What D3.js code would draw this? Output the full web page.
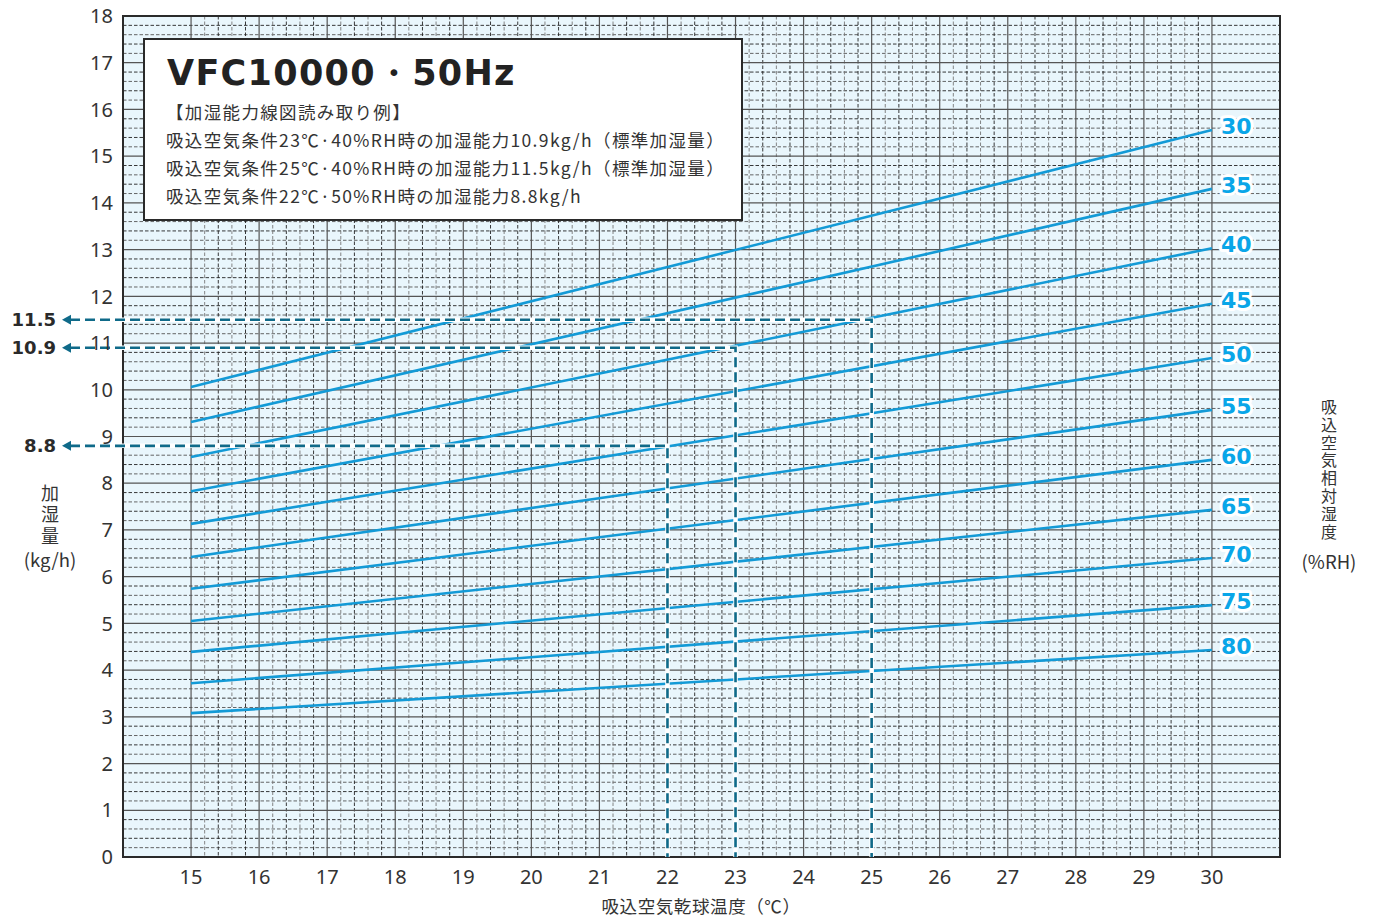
<!DOCTYPE html>
<html><head><meta charset="utf-8">
<script src="https://cdn.jsdelivr.net/npm/d3@7"></script>
<style>
html,body{margin:0;padding:0;background:#fff;}
svg{display:block;}
</style></head>
<body>
<script>
// ---- data ----
const rhLevels = [30, 35, 40, 45, 50, 55, 60, 65, 70, 75, 80];
const tempRange = [15, 30];
const humAt15 = [10.06, 9.31, 8.56, 7.83, 7.13, 6.42, 5.74, 5.05, 4.39, 3.72, 3.08];
const humAt30 = [15.56, 14.30, 13.03, 11.84, 10.68, 9.57, 8.50, 7.43, 6.40, 5.39, 4.43];
const xTicks = d3.range(15, 31, 1);
const yTicks = d3.range(0, 19, 1);
const exampleTemps = [25, 23, 22];
const exampleValues = [11.5, 10.9, 8.8];
const exampleLabels = ["11.5", "10.9", "8.8"];
const titleText = "VFC10000・50Hz";
const noteLines = [
  "【加湿能力線図読み取り例】",
  "吸込空気条件23℃·40%RH時の加湿能力10.9kg/h（標準加湿量）",
  "吸込空気条件25℃·40%RH時の加湿能力11.5kg/h（標準加湿量）",
  "吸込空気条件22℃·50%RH時の加湿能力8.8kg/h"
];
const xTitle = "吸込空気乾球温度（℃）";
const yTitle = "加湿量";
const yUnit = "(kg/h)";
const rTitle = "吸込空気相対湿度";
const rUnit = "(%RH)";

const W = 1375, H = 920;
const L = 123, R = 1280, T = 16, B = 857;
const x = d3.scaleLinear().domain([14, 31]).range([L, R]);
const y = d3.scaleLinear().domain([0, 18]).range([B, T]);

const JP = "'Noto Sans CJK JP', 'Noto Sans', sans-serif";
const NUM = "'Noto Sans', 'DejaVu Sans', sans-serif";
const WIDE = "'DejaVu Sans', 'Noto Sans', sans-serif";

const svg = d3.select("body").append("svg").attr("width", W).attr("height", H);

// background
svg.append("rect").attr("x", L).attr("y", T).attr("width", R - L).attr("height", B - T).attr("fill", "#e9f6fc");

const grid = svg.append("g");
// minor horizontal lines (every 0.2)
const minorY = d3.range(0, 18.001, 0.2).filter(v => Math.abs(v - Math.round(v)) > 1e-6);
grid.selectAll(".mh").data(minorY).join("line")
  .attr("x1", L).attr("x2", R)
  .attr("y1", d => y(d)).attr("y2", d => y(d))
  .attr("stroke", (d, i) => (i % 2 ? "#222" : "#555"))
  .attr("stroke-width", 0.9).attr("stroke-dasharray", "3.5,2");
// minor vertical lines (between 15 and 30)
const minorX = d3.range(15, 30.001, 0.2).filter(v => Math.abs(v - Math.round(v)) > 1e-6);
grid.selectAll(".mv").data(minorX).join("line")
  .attr("x1", d => x(d)).attr("x2", d => x(d))
  .attr("y1", T).attr("y2", B)
  .attr("stroke", (d, i) => (i % 2 ? "#222" : "#777"))
  .attr("stroke-width", 0.9).attr("stroke-dasharray", "3.5,2");
// major lines
grid.selectAll(".Mh").data(yTicks).join("line")
  .attr("x1", L).attr("x2", R)
  .attr("y1", d => y(d)).attr("y2", d => y(d))
  .attr("stroke", "#555").attr("stroke-width", 1.2);
grid.selectAll(".Mv").data(xTicks).join("line")
  .attr("x1", d => x(d)).attr("x2", d => x(d))
  .attr("y1", T).attr("y2", B)
  .attr("stroke", "#555").attr("stroke-width", 1.2);

// frame
svg.append("rect").attr("x", L).attr("y", T).attr("width", R - L).attr("height", B - T)
  .attr("fill", "none").attr("stroke", "#2a2a2a").attr("stroke-width", 2);

// RH lines
const lineGen = d3.line().x(d => x(d[0])).y(d => y(d[1]));
const series = rhLevels.map((rh, i) => ({ rh, pts: [[tempRange[0], humAt15[i]], [tempRange[1], humAt30[i]]] }));
svg.append("g").selectAll("path").data(series).join("path")
  .attr("d", d => lineGen(d.pts))
  .attr("fill", "none").attr("stroke", "#139ad6").attr("stroke-width", 2.6);

// example dashed guides
const ex = exampleValues.map((v, i) => ({ v, t: exampleTemps[i], label: exampleLabels[i] }));
const guides = svg.append("g");
function guidePath(d) { return `M${70},${y(d.v)}H${x(d.t)}V${B}`; }
guides.selectAll(".gw").data(ex).join("path")
  .attr("d", guidePath).attr("fill", "none").attr("stroke", "#fff").attr("stroke-width", 4.5);
guides.selectAll(".gd").data(ex).join("path")
  .attr("d", guidePath).attr("fill", "none").attr("stroke", "#0f6a89").attr("stroke-width", 2.6)
  .attr("stroke-dasharray", "10,5");
guides.selectAll(".ga").data(ex).join("path")
  .attr("d", d => `M${62},${y(d.v)}L${71},${y(d.v) - 5}L${71},${y(d.v) + 5}Z`)
  .attr("fill", "#0f6a89");
guides.selectAll(".gl").data(ex).join("text")
  .attr("x", 56).attr("y", d => y(d.v)).attr("dy", "0.36em")
  .attr("text-anchor", "end").attr("font-family", WIDE).attr("font-weight", "bold")
  .attr("font-size", 18).attr("fill", "#2a2a2a").text(d => d.label);

// y tick labels
svg.append("g").selectAll("text").data(yTicks).join("text")
  .attr("x", 113).attr("y", d => y(d)).attr("dy", "0.36em").attr("text-anchor", "end")
  .attr("font-family", NUM).attr("font-size", 20).attr("fill", "#333").text(d => d);
// x tick labels
svg.append("g").selectAll("text").data(xTicks).join("text")
  .attr("x", d => x(d)).attr("y", 877).attr("dy", "0.36em").attr("text-anchor", "middle")
  .attr("font-family", NUM).attr("font-size", 20).attr("fill", "#333").text(d => d);

// RH labels
svg.append("g").selectAll("text").data(series).join("text")
  .attr("x", 1221).attr("y", d => y(d.pts[1][1]) - 4).attr("dy", "0.36em")
  .attr("font-family", WIDE).attr("font-weight", "bold").attr("font-size", 22)
  .attr("fill", "#0aa6e8").attr("stroke", "#fff").attr("stroke-width", 6)
  .attr("stroke-linejoin", "round").attr("paint-order", "stroke").text(d => d.rh);

// axis titles
svg.append("text").attr("x", 701).attr("y", 907).attr("dy", "0.36em").attr("text-anchor", "middle")
  .attr("font-family", JP).attr("font-size", 17.5).attr("letter-spacing", 0.6).attr("fill", "#333").text(xTitle);
// vertical titles (single text elements, vertical writing)
svg.append("text").attr("x", 50).attr("y", 484)
  .style("writing-mode", "vertical-rl").style("text-orientation", "upright")
  .attr("font-family", JP).attr("font-size", 18).attr("letter-spacing", 3.5).attr("fill", "#333").text(yTitle);
svg.append("text").attr("x", 50).attr("y", 560).attr("dy", "0.36em").attr("text-anchor", "middle")
  .attr("font-family", JP).attr("font-size", 18.5).attr("fill", "#333").text(yUnit);
svg.append("text").attr("x", 1329).attr("y", 399)
  .style("writing-mode", "vertical-rl").style("text-orientation", "upright")
  .attr("font-family", JP).attr("font-size", 16).attr("letter-spacing", 1.8).attr("fill", "#333").text(rTitle);
svg.append("text").attr("x", 1329).attr("y", 562).attr("dy", "0.36em").attr("text-anchor", "middle")
  .attr("font-family", JP).attr("font-size", 18.5).attr("fill", "#333").text(rUnit);

// title box
const box = svg.append("g");
box.append("rect").attr("x", 144).attr("y", 39).attr("width", 598).attr("height", 181)
  .attr("fill", "#fff").attr("stroke", "#2a2a2a").attr("stroke-width", 2);
box.append("text").attr("x", 167).attr("y", 85).attr("font-family", WIDE)
  .attr("font-weight", "bold").attr("font-size", 35).attr("letter-spacing", 1.3).attr("fill", "#222").text(titleText);
box.selectAll(".nl").data(noteLines).join("text")
  .attr("x", 166).attr("y", (d, i) => 113 + i * 28).attr("dy", "0.36em")
  .attr("font-family", JP).attr("font-size", 17.5).attr("letter-spacing", 1.35).attr("fill", "#333").text(d => d);
</script>
</body></html>
